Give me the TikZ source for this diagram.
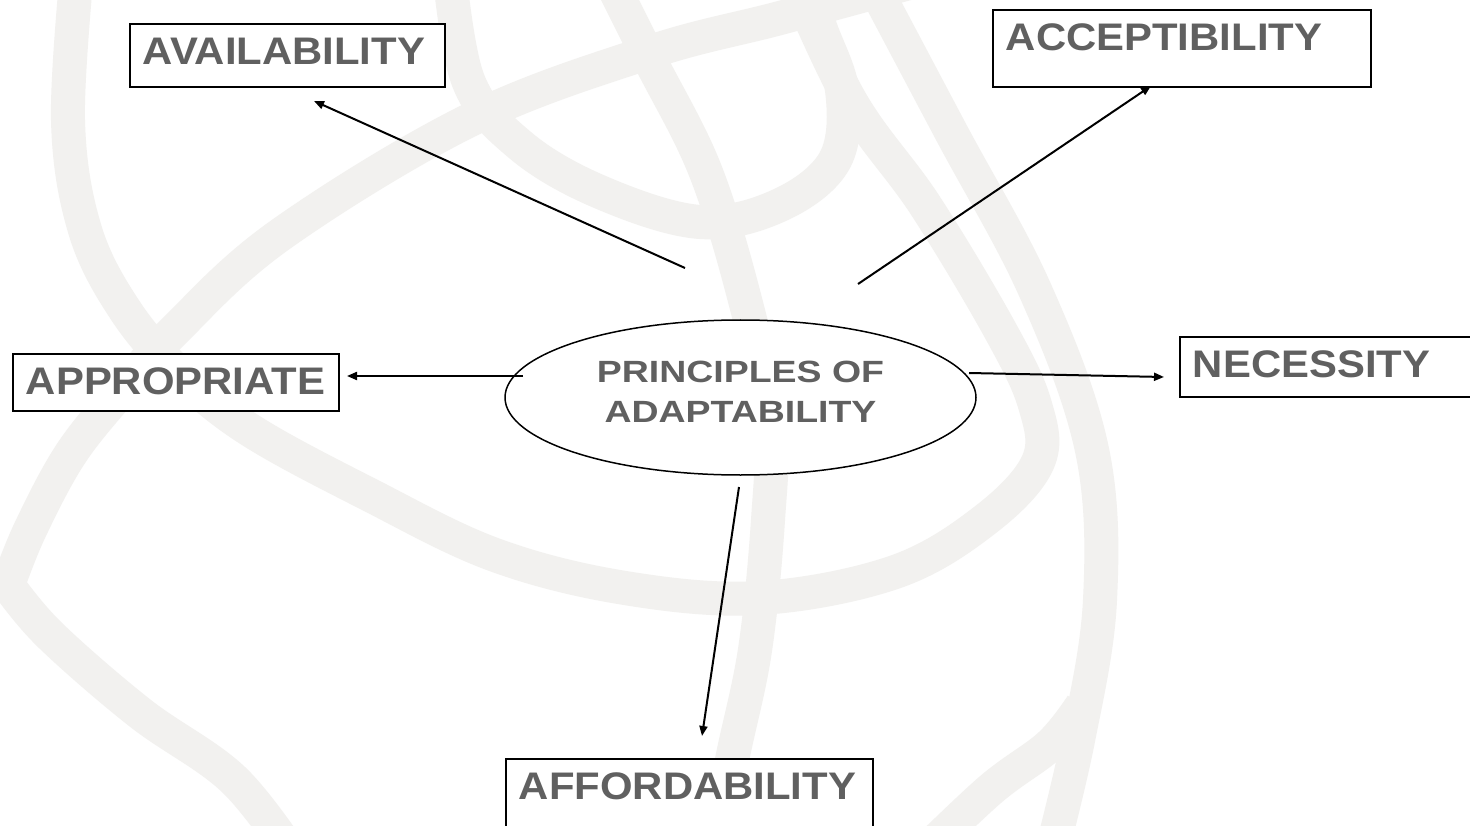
\documentclass[tikz,border=0pt]{standalone}
\usepackage{fontspec}
\setmainfont{Liberation Sans}
\usetikzlibrary{arrows.meta,shapes.geometric}
\definecolor{txtgray}{RGB}{96,96,96}
\definecolor{swoosh}{RGB}{242,241,239}
\newcommand{\wlbl}[1]{\scalebox{1.09}[1]{#1}}
\newcommand{\wcen}[1]{\scalebox{1.22}[1]{#1}}
\begin{document}
\begin{tikzpicture}[x=1pt,y=-1pt,
  lab/.style={draw=black, line width=1.8pt, fill=white, anchor=north west,
    inner xsep=13pt, inner ysep=0pt, text height=41pt, align=left,
    font=\fontsize{38.4}{40}\selectfont\bfseries, text=txtgray},
  band/.style={draw=swoosh, line width=34pt, line cap=butt, line join=round},
  conn/.style={line width=2pt, -{Triangle[length=10pt,width=8pt]}}
]
\useasboundingbox (0,0) rectangle (1470,826);
\clip (0,0) rectangle (1470,826);
\fill[white] (0,0) rectangle (1470,826);

% background swooshes
\draw[band] plot[smooth, tension=0.6] coordinates {(78,-40) (68,120) (85,230) (125,310) (178,372) (250,430) (370,495) (495,555) (625,588) (760,598) (895,572) (985,520) (1038,462) (1035,405) (1000,330) (925,205) (850,100) (785,-40)};
\draw[band] plot[smooth, tension=0.6] coordinates {(860,-40) (950,130) (1035,290) (1092,450) (1100,600) (1078,740) (1048,866)};
\draw[band] plot[smooth, tension=0.6] coordinates {(448,-40) (468,80) (520,145) (600,192) (700,222) (780,205) (835,160) (842,90) (818,20) (808,-40)};
\draw[band] plot[smooth, tension=0.6] coordinates {(600,-40) (650,60) (705,170) (745,300) (770,420) (768,520) (755,650) (732,760) (712,866)};
\draw[band] plot[smooth, tension=0.6] coordinates {(920,-20) (780,18) (650,52) (470,120) (280,235) (175,330) (120,392) (70,455) (30,530) (8,585)}
  -- plot[smooth, tension=0.6] coordinates {(8,585) (50,635) (140,713) (234,780) (300,866)};
\draw[band] plot[smooth, tension=0.6] coordinates {(1082,705) (1050,745) (990,790) (910,866)};

% boxes
\node[lab, text width=289pt, text depth=22pt] (avail) at (129,23) {\wlbl{AVAILABILITY}};
\node[lab, text width=352pt, text depth=36pt] (accept) at (992,9) {\wlbl{ACCEPTIBILITY}};
\node[lab, text width=300pt, text depth=16pt] (approp) at (12,353) {\wlbl{APPROPRIATE}};
\node[lab, text width=300pt, text depth=19pt] (necess) at (1179,336) {\wlbl{NECESSITY}};
\node[lab, text width=341pt, text depth=60pt] (afford) at (505,758) {\wlbl{AFFORDABILITY}};

% centre ellipse
\node[ellipse, draw=black, line width=1.5pt, fill=white, minimum width=471pt,
  minimum height=155pt, inner sep=0pt, align=center,
  font=\fontsize{30.7}{40}\selectfont\bfseries, text=txtgray,
  text height=62pt, text depth=13pt] (pa) at (740.5,397.5)
  {\wcen{PRINCIPLES OF}\\\wcen{ADAPTABILITY}};

% connector ends
\coordinate (t1) at (685,268); \coordinate (h1) at (314,101);
\coordinate (t2) at (858,284); \coordinate (h2) at (1151,86);
\coordinate (t3) at (523,376); \coordinate (h3) at (347,376);
\coordinate (t4) at (969,373); \coordinate (h4) at (1164,377);
\coordinate (t5) at (739,487); \coordinate (h5) at (702,736);

\draw[conn] (t1) -- (h1);
\draw[conn] (t2) -- (h2);
\draw[conn] (t3) -- (h3);
\draw[conn] (t4) -- (h4);
\draw[conn] (t5) -- (h5);
\end{tikzpicture}
\end{document}
